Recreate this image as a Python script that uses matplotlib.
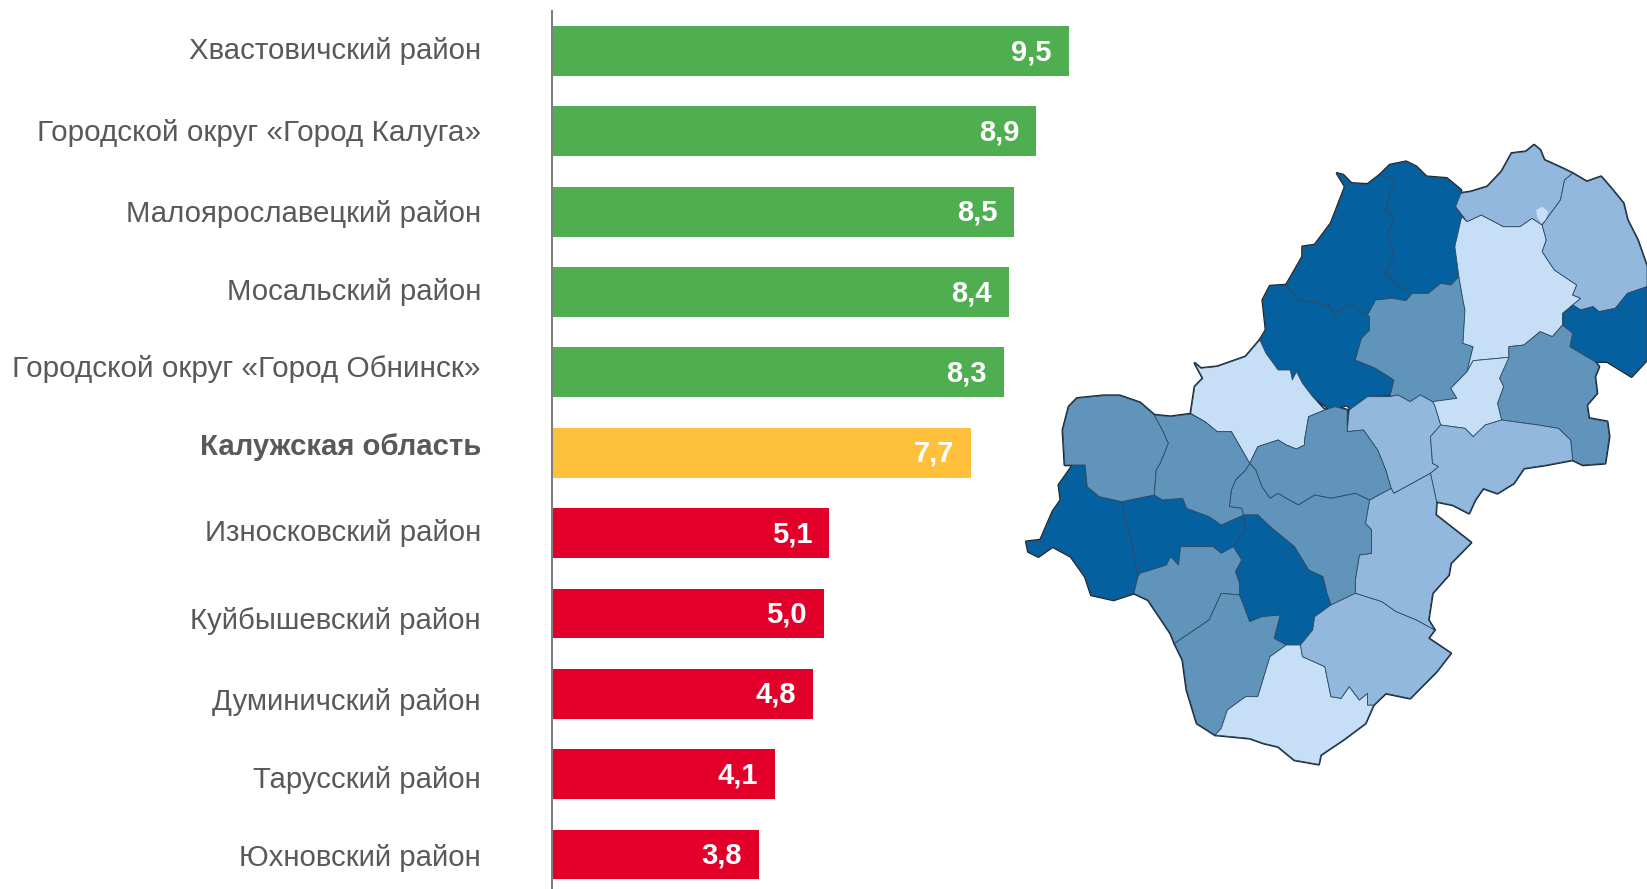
import matplotlib
matplotlib.use('Agg')
import matplotlib.pyplot as plt

plt.rcParams['font.family'] = ['Liberation Sans', 'DejaVu Sans']

W, H = 1647, 889

districts = ['Хвастовичский район', 'Городской округ «Город Калуга»', 'Малоярославецкий район',
             'Мосальский район', 'Городской округ «Город Обнинск»', 'Калужская область',
             'Износковский район', 'Куйбышевский район', 'Думиничский район',
             'Тарусский район', 'Юхновский район']
values = [9.5, 8.9, 8.5, 8.4, 8.3, 7.7, 5.1, 5.0, 4.8, 4.1, 3.8]
bar_colors = ['#4FAF50'] * 5 + ['#FFC13B'] + ['#E2002B'] * 5
label_y = [51, 133, 214, 292, 369, 447, 533, 621, 702, 780, 858]

DARK = '#04609F'
MID = '#6094BA'
SOFT = '#92B8DD'
PALE = '#C6DFF6'

nw_left = [(805,130),(820,135),(840,160),(880,163),(910,135),(950,150),(935,190),(925,240),(945,260),(930,310),
           (945,380),(925,430),(945,460),(990,490),(975,512),(940,505),(900,510),(880,555),(835,520),(800,555),
           (785,525),(710,510),(680,465),(720,380),(720,350),(750,345),(790,280),(825,170)]
nw_right = [(910,135),(935,105),(975,95),(1000,110),(1025,140),(1075,145),(1110,180),(1112,210),(1097,230),(1112,260),
            (1095,350),(1105,440),(1085,465),(1060,460),(1030,490),(990,490),(945,460),(925,430),(945,380),(930,310),
            (945,260),(925,240),(935,190),(950,150)]
north_dark = [(680,465),(640,468),(622,510),(630,600),(615,630),(630,670),(660,720),(690,720),(695,750),(705,725),
              (720,760),(745,800),(790,840),(830,825),(840,840),(880,800),(935,795),(945,750),(900,715),(850,690),
              (865,625),(885,600),(885,560),(880,555),(835,520),(800,555),(785,525),(710,510)]
centre_north = [(880,555),(900,510),(940,505),(975,512),(990,490),(1030,490),(1060,460),(1085,465),(1105,440),(1115,510),(1120,540),
                (1115,640),(1140,650),(1125,725),(1085,775),(1100,805),(1040,815),(1010,795),(985,815),(955,795),(935,800),
                (945,750),(900,715),(850,690),(865,625),(885,600),(885,560)]
pale_north = [(1112,260),(1125,275),(1160,255),(1215,290),(1255,290),(1285,265),(1310,285),(1320,330),(1310,365),(1340,420),
              (1395,465),(1385,495),(1405,505),(1385,525),(1360,550),(1360,585),(1335,620),(1305,605),(1265,645),(1228,650),
              (1228,682),(1140,692),(1125,725),(1140,650),(1115,640),(1120,540),(1115,510),(1105,440),(1095,350)]
top_soft = [(1110,190),(1135,185),(1175,170),(1210,125),(1235,70),(1270,65),(1290,45),(1305,60),(1315,90),(1360,115),
            (1385,130),(1365,150),(1355,210),(1325,260),(1310,285),(1285,265),(1255,290),(1215,290),(1160,255),(1125,275),(1097,230)]
right_soft = [(1385,130),(1420,155),(1455,140),(1480,175),(1510,220),(1520,270),(1545,330),(1568,410),(1568,470),(1520,490),
              (1490,535),(1450,545),(1435,530),(1405,540),(1385,525),(1405,505),(1385,495),(1395,465),(1340,420),(1310,365),
              (1320,330),(1310,285),(1325,260),(1355,210),(1365,150)]
east_dark = [(1568,470),(1520,490),(1490,535),(1450,545),(1435,530),(1405,540),(1385,525),(1362,550),(1362,585),(1385,610),(1378,650),
             (1440,695),(1470,695),(1530,740),(1568,690)]
east_mid = [(1360,585),(1385,610),(1378,650),(1440,695),(1450,710),(1440,740),(1445,790),(1420,825),(1425,865),(1470,875),
            (1475,920),(1465,1000),(1410,1005),(1385,990),(1380,930),(1350,895),(1300,885),(1210,870),(1200,820),(1215,770),
            (1205,745),(1228,680),(1228,650),(1265,645),(1305,605),(1335,620)]
small_pale = [(1140,692),(1228,682),(1205,745),(1215,770),(1200,820),(1210,870),(1170,885),(1140,920),(1120,895),(1060,885),
              (1045,825),(1040,815),(1100,805),(1085,775),(1125,725)]
centre_soft = [(835,840),(880,800),(935,800),(955,795),(985,815),(1010,795),(1040,815),(1045,825),(1060,885),(1035,920),
               (1040,1000),(1055,1010),(1035,1030),(945,1090),(938,1075),(925,1020),(905,960),(870,900),(830,905)]
east_soft = [(1035,920),(1060,885),(1120,895),(1140,920),(1170,885),(1210,870),(1300,885),(1350,895),(1380,930),(1385,990),
             (1320,1005),(1265,1015),(1240,1060),(1200,1090),(1165,1075),(1145,1110),(1130,1150),(1090,1125),(1050,1115),(1035,1030),
             (1055,1010),(1040,1000)]
middle_soft = [(945,1090),(1035,1030),(1050,1115),(1048,1155),(1135,1238),(1085,1300),(1080,1335),(1040,1390),(1030,1470),(1045,1500),
               (1000,1470),(950,1445),(915,1415),(850,1390),(850,1350),(860,1275),(890,1270),(890,1200),(875,1180),(885,1110),(938,1075)]
west_pale = [(455,700),(470,715),(510,710),(580,680),(615,630),(630,670),(660,720),(690,720),(695,750),(705,725),
             (720,760),(745,800),(775,840),(735,860),(725,930),(725,945),(705,957),(680,945),(660,930),(610,950),
             (590,1000),(545,905),(510,905),(480,875),(445,850),(455,770),(475,745)]
centre_mid = [(590,1000),(610,950),(660,930),(680,945),(705,957),(725,945),(725,930),(735,860),(775,840),(800,830),
              (830,840),(830,905),(870,900),(905,960),(925,1020),(938,1075),(885,1110),(850,1090),(790,1105),(750,1095),
              (710,1125),(680,1105),(660,1090),(640,1105),(620,1070),(605,1020)]
lower_mid = [(590,1000),(605,1020),(620,1070),(640,1105),(660,1090),(680,1105),(710,1125),(750,1095),(790,1105),(850,1090),
             (885,1110),(875,1180),(890,1200),(890,1270),(860,1275),(850,1350),(850,1390),(790,1425),(780,1390),(770,1340),
             (735,1320),(700,1250),(640,1190),(610,1155),(575,1155),(570,1135),(540,1130),(545,1080),(555,1050),(580,1020)]
centre_dark = [(575,1155),(610,1155),(640,1190),(700,1250),(735,1320),(770,1340),(780,1390),(790,1425),(750,1460),(745,1500),
               (715,1545),(680,1545),(650,1525),(665,1455),(620,1460),(590,1475),(565,1395),(565,1360),(555,1325),(570,1290),
               (550,1250),(580,1200)]
west_dark = [(275,1115),(355,1095),(375,1110),(425,1105),(435,1135),(490,1160),(520,1185),(575,1155),(580,1200),
             (550,1250),(520,1270),(500,1250),(420,1250),(415,1305),(395,1280),(385,1305),(320,1330),(315,1340),(300,1240),(285,1180)]
far_west_dark = [(155,1005),(185,1005),(190,1070),(220,1100),(275,1115),(285,1180),(300,1240),(315,1340),(305,1390),(255,1410),
                 (200,1395),(185,1340),(150,1280),(105,1250),(70,1280),(45,1265),(40,1235),(75,1230),(105,1145),(125,1110),(120,1065)]
west_mid_a = [(165,805),(230,797),(270,797),(320,818),(355,855),(375,900),(390,940),(370,1000),(360,1020),(355,1095),
              (275,1115),(220,1100),(190,1070),(185,1005),(135,1005),(130,900),(145,830)]
west_mid_b = [(355,855),(395,860),(445,852),(480,875),(510,905),(545,905),(590,1000),(580,1020),(555,1050),(545,1080),
              (540,1130),(570,1135),(575,1155),(520,1185),(490,1160),(435,1135),(425,1105),(375,1110),(355,1095),(360,1020),
              (370,1000),(390,940),(375,900)]
sw_mid = [(315,1340),(320,1330),(385,1305),(395,1280),(415,1305),(420,1250),(500,1250),(520,1270),(550,1250),(570,1290),(555,1325),
          (565,1360),(565,1395),(520,1390),(490,1470),(405,1540),(395,1510),(340,1410),(305,1390)]
south_mid = [(520,1390),(565,1395),(590,1475),(620,1460),(665,1455),(650,1525),(680,1545),(640,1580),(610,1700),(580,1700),
             (535,1740),(520,1795),(505,1815),(460,1780),(435,1680),(425,1590),(405,1540),(490,1470)]
south_pale = [(680,1545),(715,1545),(720,1580),(775,1610),(790,1700),(815,1705),(835,1670),(860,1710),(880,1690),(880,1725),
              (895,1725),(875,1780),(820,1830),(765,1875),(760,1903),(700,1890),(660,1850),(625,1840),(590,1825),(505,1815),
              (520,1795),(535,1740),(580,1700),(610,1700),(640,1580)]
south_soft = [(790,1425),(850,1390),(915,1415),(950,1445),(1000,1470),(1045,1500),(1030,1525),(1085,1570),(1050,1625),(985,1705),
              (925,1690),(895,1725),(880,1725),(880,1690),(860,1710),(835,1670),(815,1705),(790,1700),(775,1610),(720,1580),
              (715,1545),(745,1500),(750,1460)]
drop_pale = [(1295,240),(1310,230),(1325,245),(1318,270),(1308,280),(1298,262)]

regions = [(nw_left, DARK), (nw_right, DARK), (north_dark, DARK), (centre_north, MID), (pale_north, PALE),
           (top_soft, SOFT), (right_soft, SOFT), (east_dark, DARK), (east_mid, MID), (small_pale, PALE),
           (centre_soft, SOFT), (east_soft, SOFT), (middle_soft, SOFT), (west_pale, PALE), (centre_mid, MID),
           (lower_mid, MID), (centre_dark, DARK), (west_dark, DARK), (far_west_dark, DARK), (west_mid_a, MID),
           (west_mid_b, MID), (sw_mid, MID), (south_mid, MID), (south_pale, PALE), (south_soft, SOFT)]


def to_pixels(points):
    xs = [1010 + x * 637 / 1568 for x, y in points]
    ys = [130 + y / 3 for x, y in points]
    return xs, ys


def main():
    fig = plt.figure(figsize=(W / 100, H / 100), dpi=100)

    # overlay in pixel coordinates for the map and the category labels
    over = fig.add_axes([0, 0, 1, 1])
    over.set_xlim(0, W)
    over.set_ylim(H, 0)
    over.axis('off')

    # heavy outline first, the fills then hide it everywhere but on the outer border
    for points, color in regions:
        xs, ys = to_pixels(points)
        over.fill(xs, ys, facecolor='none', edgecolor='#14222E', linewidth=1.9, joinstyle='round')
    for points, color in regions:
        xs, ys = to_pixels(points)
        over.fill(xs, ys, facecolor=color, edgecolor='#2E4C66', linewidth=0.6, joinstyle='round')
    xs, ys = to_pixels(drop_pale)
    over.fill(xs, ys, facecolor=PALE, edgecolor='none')

    for i, name in enumerate(districts):
        weight = 'bold' if name == 'Калужская область' else 'normal'
        size = 21.45 if 'округ' in name else 21.2
        over.text(481, label_y[i], name, ha='right', va='center', fontsize=size,
                  color='#595959', fontweight=weight)

    ax = fig.add_axes([552 / W, 0, (W - 552) / W, (H - 11) / H])
    ax.patch.set_alpha(0)
    ax.set_xlim(0, (W - 552) / 54.4)
    ax.set_ylim(10.43, -0.498)
    bars = ax.barh(range(len(values)), values, height=0.62, color=bar_colors)

    for rect, value in zip(bars, values):
        ax.annotate(str(value).replace('.', ','), (value, rect.get_y() + rect.get_height() / 2),
                    xytext=(-17, -1), textcoords='offset pixels', ha='right', va='center',
                    fontsize=21, fontweight='bold', color='white')

    for side in ['top', 'right', 'bottom']:
        ax.spines[side].set_visible(False)
    ax.spines['left'].set_color('#7F7F7F')
    ax.spines['left'].set_linewidth(1.5)
    ax.set_xticks([])
    ax.set_yticks([])

    fig.savefig('out.png', dpi=100)


if __name__ == '__main__':
    main()
